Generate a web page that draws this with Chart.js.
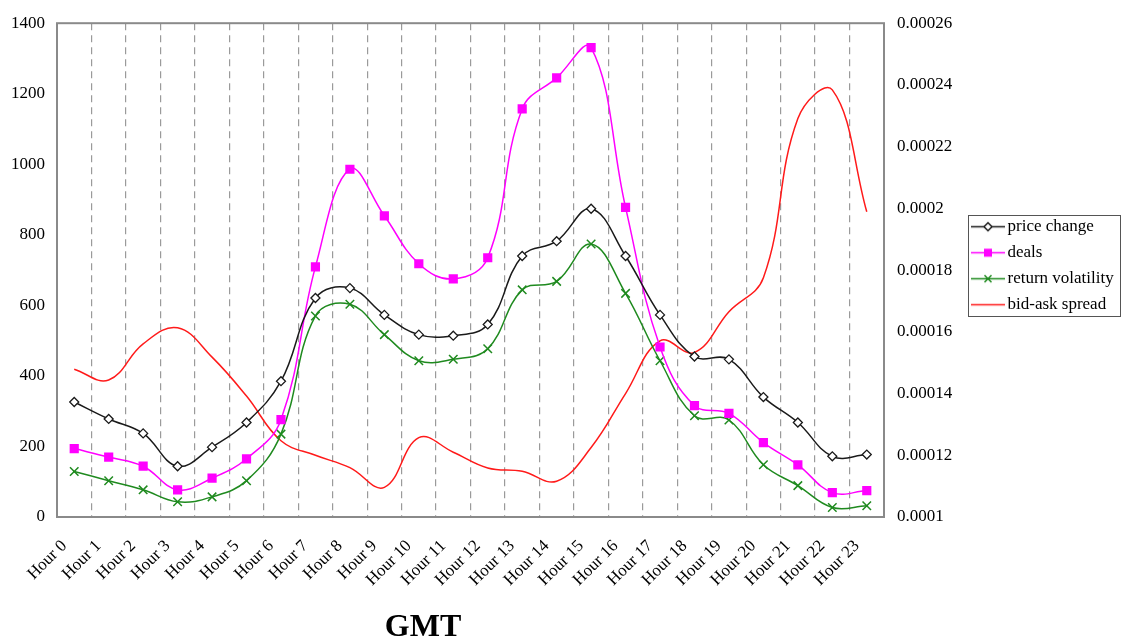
<!DOCTYPE html>
<html>
<head>
<meta charset="utf-8">
<script src="https://cdn.jsdelivr.net/npm/chart.js@4/dist/chart.umd.min.js"></script>
<style>
  body { margin: 0; background: #fff; }
  #wrap { position: relative; width: 1121px; height: 641px; }
  #gmt {
    position: absolute; left: 323px; top: 605px; width: 200px;
    text-align: center; font: bold 32px "Liberation Serif", serif; line-height: 40px;
  }
</style>
</head>
<body>
<div id="wrap">
  <canvas id="hourChart" width="1121" height="641"></canvas>
  <div id="gmt">GMT</div>
</div>
<script>
// Hours of the trading day (GMT).
var hours = ['Hour 0', 'Hour 1', 'Hour 2', 'Hour 3', 'Hour 4', 'Hour 5', 'Hour 6', 'Hour 7',
    'Hour 8', 'Hour 9', 'Hour 10', 'Hour 11', 'Hour 12', 'Hour 13', 'Hour 14', 'Hour 15',
    'Hour 16', 'Hour 17', 'Hour 18', 'Hour 19', 'Hour 20', 'Hour 21', 'Hour 22', 'Hour 23'];

// Left axis series.
var priceChange = [326, 278, 237, 144, 198, 268, 385, 621, 649, 573, 517, 514,
    546, 740, 782, 874, 740, 573, 455, 447, 340, 268, 172, 177];
var deals = [194, 170, 144, 77, 110, 165, 276, 709, 986, 854, 718, 675,
    735, 1157, 1245, 1331, 878, 482, 316, 294, 211, 148, 69, 75];
var returnVolatility = [129, 103, 77, 43, 57, 103, 235, 570, 603, 517, 443, 447,
    477, 644, 668, 774, 634, 443, 287, 275, 148, 89, 27, 32];

// Right axis series.
var bidAskSpread = [0.0001479, 0.0001444, 0.0001561, 0.0001613, 0.0001518, 0.0001392,
    0.0001247, 0.0001200, 0.0001160, 0.0001096, 0.0001257, 0.0001210,
    0.0001159, 0.0001148, 0.0001116, 0.0001225, 0.0001400, 0.0001571,
    0.0001533, 0.0001665, 0.0001775, 0.0002291, 0.0002384, 0.0001989];

// Axis ranges.
var leftMin = 0, leftMax = 1400, leftStep = 200;
var rightMin = 0.0001, rightMax = 0.00026, rightStep = 0.00002;

var serif = '"Liberation Serif", "Times New Roman", serif';

// Small legend sample: a line with the series marker in the middle.
function legendSwatch(color, marker) {
    var c = document.createElement('canvas');
    c.width = 34;
    c.height = 17;
    var g = c.getContext('2d');
    g.strokeStyle = color;
    g.fillStyle = color;
    g.lineWidth = 1.5;
    g.beginPath();
    g.moveTo(0, 8.5);
    g.lineTo(34, 8.5);
    g.stroke();
    if (marker === 'rectRot') {
        g.beginPath();
        g.moveTo(17, 4.5); g.lineTo(21, 8.5); g.lineTo(17, 12.5); g.lineTo(13, 8.5);
        g.closePath();
        g.fillStyle = '#fff';
        g.fill();
        g.stroke();
    } else if (marker === 'rect') {
        g.fillRect(13, 4.5, 8, 8);
    } else if (marker === 'crossRot') {
        g.beginPath();
        g.moveTo(13.5, 5); g.lineTo(20.5, 12);
        g.moveTo(20.5, 5); g.lineTo(13.5, 12);
        g.stroke();
    }
    return c;
}

// Frame round the plot area and a border round the legend.
var framePlugin = {
    id: 'frame',
    beforeDatasetsDraw: function (chart) {
        var a = chart.chartArea;
        var ctx = chart.ctx;
        ctx.save();
        ctx.strokeStyle = '#8a8a8a';
        ctx.lineWidth = 2;
        ctx.strokeRect(a.left, a.top, a.right - a.left, a.bottom - a.top);
        ctx.restore();
    },
    afterDraw: function (chart) {
        var lg = chart.legend;
        if (!lg || !lg.legendHitBoxes.length) return;
        var boxes = lg.legendHitBoxes;
        var last = boxes[boxes.length - 1];
        var ctx = chart.ctx;
        ctx.save();
        ctx.strokeStyle = '#555';
        ctx.lineWidth = 1;
        var y0 = Math.round(boxes[0].top - 3) + 0.5;
        var y1 = Math.round(last.top + last.height + 3) + 0.5;
        ctx.strokeRect(Math.round(lg.left) + 0.5, y0, chart.width - Math.round(lg.left) - 1, y1 - y0);
        ctx.restore();
    }
};

var swatches = [
    legendSwatch('#1a1a1a', 'rectRot'),
    legendSwatch('#ff00ff', 'rect'),
    legendSwatch('#1f8a1f', 'crossRot'),
    legendSwatch('#ff1a1a', null)
];

var chart = new Chart(document.getElementById('hourChart').getContext('2d'), {
    type: 'line',
    data: {
        labels: hours,
        datasets: [{
            label: 'price change',
            data: priceChange,
            yAxisID: 'y',
            borderColor: '#1a1a1a',
            borderWidth: 1.5,
            pointStyle: 'rectRot',
            pointRadius: 4.5,
            pointBorderWidth: 1.3,
            pointBackgroundColor: '#fff',
            pointBorderColor: '#1a1a1a',
            tension: 0.4
        }, {
            label: 'deals',
            data: deals,
            yAxisID: 'y',
            borderColor: '#ff00ff',
            borderWidth: 1.5,
            pointStyle: 'rect',
            pointRadius: 6.5,
            pointBorderWidth: 0,
            pointBackgroundColor: '#ff00ff',
            tension: 0.4
        }, {
            label: 'return volatility',
            data: returnVolatility,
            yAxisID: 'y',
            borderColor: '#1f8a1f',
            borderWidth: 1.5,
            pointStyle: 'crossRot',
            pointRadius: 6,
            pointBorderWidth: 1.5,
            pointBorderColor: '#1f8a1f',
            tension: 0.4
        }, {
            label: 'bid-ask spread',
            data: bidAskSpread,
            yAxisID: 'y2',
            borderColor: '#ff1a1a',
            borderWidth: 1.5,
            pointRadius: 0,
            tension: 0.4
        }]
    },
    options: {
        responsive: false,
        animation: false,
        layout: { padding: { top: 12, left: 0, right: 0, bottom: 0 } },
        plugins: {
            tooltip: { enabled: false },
            legend: {
                position: 'right',
                fullSize: false,
                maxWidth: 153,
                align: 'start',
                // empty title used only as a spacer above the items
                title: { display: true, text: '', font: { size: 10 }, padding: { top: 0, bottom: 174 } },
                labels: {
                    usePointStyle: true,
                    pointStyleWidth: 22,
                    padding: 9,
                    color: '#000',
                    font: { family: serif, size: 17 },
                    generateLabels: function (c) {
                        return c.data.datasets.map(function (ds, i) {
                            return {
                                text: ds.label,
                                pointStyle: swatches[i],
                                fillStyle: 'transparent',
                                strokeStyle: 'transparent',
                                lineWidth: 0,
                                fontColor: '#000',
                                hidden: false,
                                datasetIndex: i
                            };
                        });
                    }
                }
            }
        },
        scales: {
            x: {
                offset: true,
                grid: {
                    offset: true,
                    color: '#9a9a9a',
                    lineWidth: 1.2,
                    drawTicks: false
                },
                border: { display: false, dash: [7, 5] },
                ticks: {
                    autoSkip: false,
                    minRotation: 45,
                    maxRotation: 45,
                    padding: 19,
                    labelOffset: -10,
                    color: '#000',
                    font: { family: serif, size: 17 }
                },
                afterFit: function (s) { s.height = 124; }
            },
            y: {
                position: 'left',
                min: leftMin,
                max: leftMax,
                grid: { display: false, drawTicks: false },
                border: { display: false },
                ticks: {
                    stepSize: leftStep,
                    padding: 12,
                    color: '#000',
                    font: { family: serif, size: 17 },
                    callback: function (v) { return String(v); }
                },
                afterFit: function (s) { s.width = 57; }
            },
            y2: {
                position: 'right',
                min: rightMin,
                max: rightMax,
                grid: { display: false, drawTicks: false },
                border: { display: false },
                ticks: {
                    stepSize: rightStep,
                    padding: 13,
                    color: '#000',
                    font: { family: serif, size: 17 },
                    callback: function (v) { return String(Number(v.toFixed(5))); }
                },
                afterFit: function (s) { s.width = 84; }
            }
        }
    },
    plugins: [framePlugin]
});
</script>
</body>
</html>
